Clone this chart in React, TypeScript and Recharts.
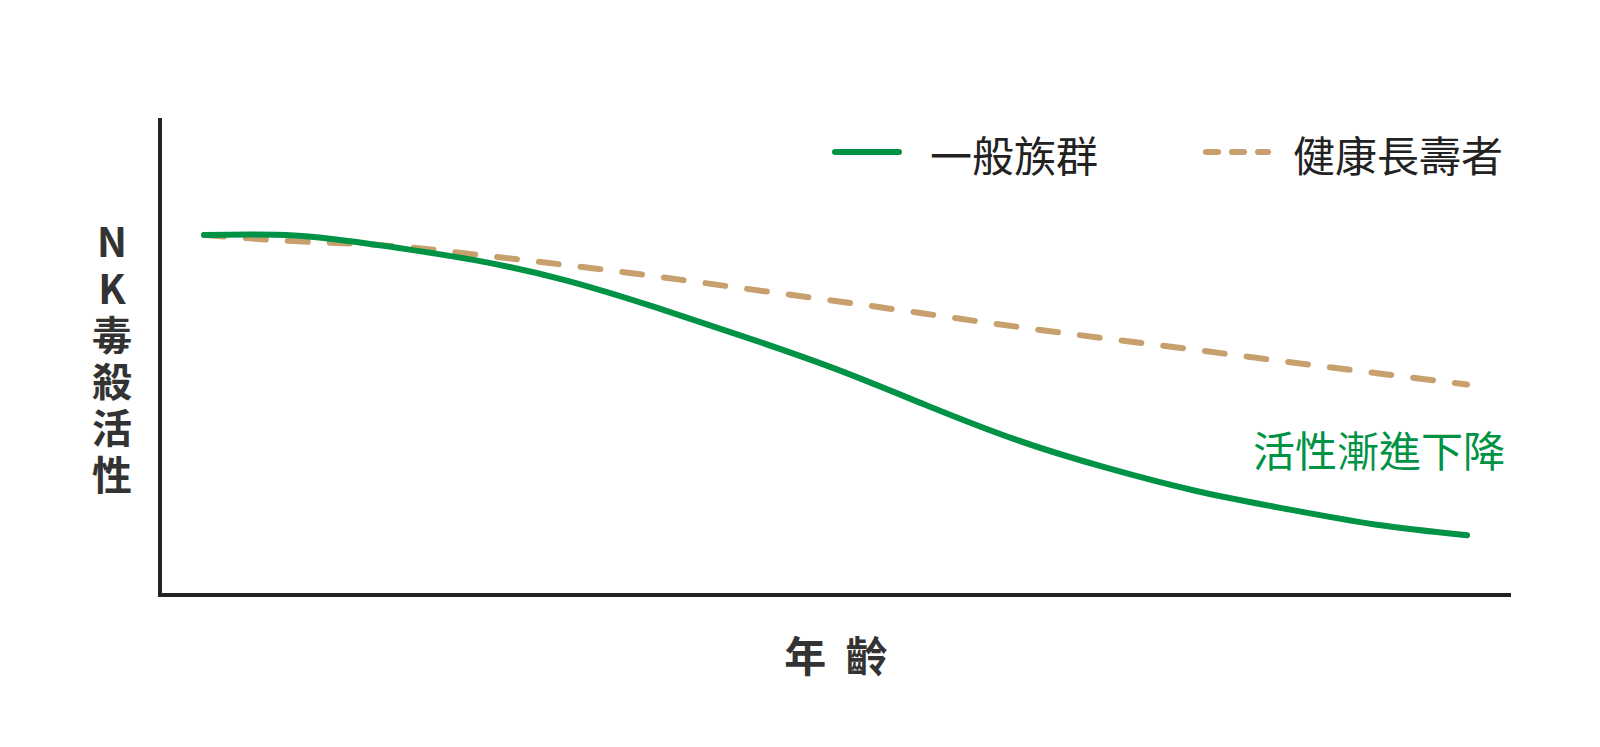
import { LineChart, Line, XAxis, YAxis } from 'recharts';

// ages (x) and relative NK cytotoxic activity (y)
const ages = [20, 25, 30, 35, 40, 45, 50, 55, 60, 65, 70, 75, 80, 85, 90];
const generalValues = [75.8, 75.7, 73.5, 70.5, 66.3, 60.6, 54.3, 47.6, 40.0, 32.7, 26.8, 21.9, 18.1, 14.8, 12.6];
const longevityValues = [75.8, 74.5, 73.6, 71.7, 69.5, 67.1, 64.5, 61.9, 59.2, 56.5, 54.0, 51.6, 49.1, 46.7, 44.3];

const seriesLabels = ['一般族群', '健康長壽者'];
const yAxisLabel = ['N', 'K', '毒', '殺', '活', '性'];
const xAxisLabel = '年 齡';
const annotation = '活性漸進下降';

const GREEN = '#009245';
const TAN = '#C7A06E';
const AXIS = '#222222';
const FONT = '"Noto Sans CJK TC", "Noto Sans", sans-serif';

const data = ages.map((age, i) => ({
    age,
    general: generalValues[i],
    longevity: longevityValues[i],
}));

const ChartLegend = () => (
    <div
        style={{
            position: 'absolute', top: 121, left: 824,
            display: 'flex', alignItems: 'center', height: 50,
            fontFamily: FONT, fontSize: 42, color: '#222', lineHeight: '50px', whiteSpace: 'nowrap',
        }}
    >
        <svg width={70} height={50} style={{ marginRight: 28 }}>
            <line x1={3} y1={23} x2={67} y2={23} stroke={GREEN} strokeWidth={6} strokeLinecap="round" />
        </svg>
        <span style={{ marginRight: 105 }}>{seriesLabels[0]}</span>
        <svg width={68} height={50} style={{ marginRight: 22 }}>
            <line x1={3} y1={23} x2={65} y2={23} stroke={TAN} strokeWidth={6} strokeLinecap="round" strokeDasharray="12 14" />
        </svg>
        <span>{seriesLabels[1]}</span>
    </div>
);

export default function App() {
    return (
        <div style={{ position: 'relative', width: 1584, height: 731 }}>
            <LineChart
                width={1584}
                height={731}
                data={data}
                margin={{ top: 112, right: 83, bottom: 143, left: 151 }}
            >
                <XAxis
                    dataKey="age"
                    type="number"
                    domain={[20, 90]}
                    padding={{ left: 44, right: 42 }}
                    tick={false}
                    tickLine={false}
                    height={1}
                    axisLine={{ stroke: AXIS, strokeWidth: 4, strokeLinecap: 'square' }}
                />
                <YAxis
                    type="number"
                    domain={[0, 100]}
                    tick={false}
                    tickLine={false}
                    width={1}
                    axisLine={{ stroke: AXIS, strokeWidth: 4, strokeLinecap: 'square' }}
                />
                <Line
                    type="natural"
                    dataKey="longevity"
                    name={seriesLabels[1]}
                    stroke={TAN}
                    strokeWidth={6}
                    strokeLinecap="round"
                    strokeDasharray="20 22"
                    dot={false}
                    activeDot={false}
                    isAnimationActive={false}
                />
                <Line
                    type="natural"
                    dataKey="general"
                    name={seriesLabels[0]}
                    stroke={GREEN}
                    strokeWidth={6}
                    strokeLinecap="round"
                    dot={false}
                    activeDot={false}
                    isAnimationActive={false}
                />
                {yAxisLabel.map((ch, i) => (
                    <text
                        key={i}
                        x={104}
                        y={249 + i * 46.5}
                        textAnchor="middle"
                        fontFamily={FONT}
                        fontSize={40}
                        fontWeight="bold"
                        fill="#333"
                    >
                        {ch}
                    </text>
                ))}
                <text x={828} y={664} textAnchor="middle" fontFamily={FONT} fontSize={42} fontWeight="bold" fill="#333" style={{ wordSpacing: 10 }}>
                    {xAxisLabel}
                </text>
                <text x={1245} y={459} fontFamily={FONT} fontSize={42} fill={GREEN}>
                    {annotation}
                </text>
            </LineChart>
            <ChartLegend />
        </div>
    );
}
